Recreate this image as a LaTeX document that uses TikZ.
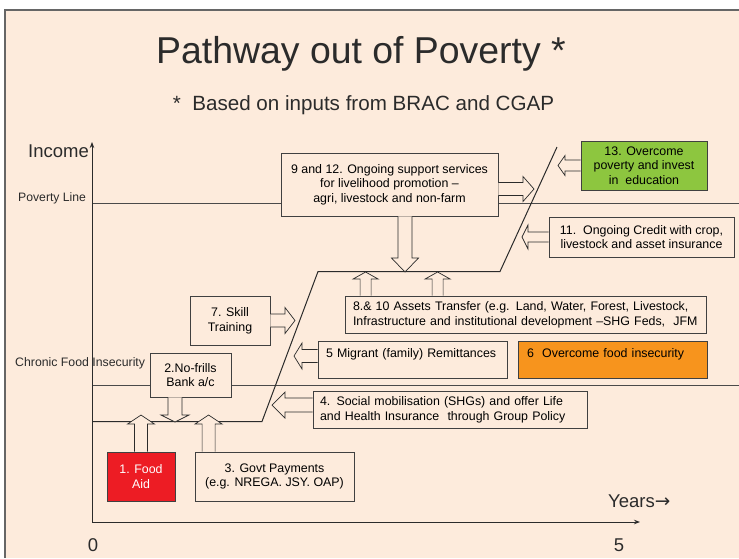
\documentclass[tikz,border=0pt]{standalone}
\usepackage{fontspec}
\setmainfont{Liberation Sans}
\newfontfamily\symfont{DejaVu Sans}
\usetikzlibrary{calc,arrows.meta}
\definecolor{peach}{HTML}{FDEBDC}
\definecolor{ink}{HTML}{2B2B2B}
\definecolor{boxline}{HTML}{404040}
\definecolor{lineg}{HTML}{4A4A4A}
\definecolor{aidred}{HTML}{ED1C24}
\definecolor{okgreen}{HTML}{8DC63F}
\definecolor{foodorange}{HTML}{F7941D}
\newcommand\boxfont{\fontsize{12.4}{14.6}\selectfont}
\newcommand\hblock[5]{%
  \draw[blockarrow] let \p1=(#1), \p2=(#2), \n1={(\x2-\x1)/abs(\x2-\x1)*#5} in
   (\x1,\y1+#3) -- (\x2-\n1,\y1+#3) -- (\x2-\n1,\y1+#4) -- (\x2,\y1) -- (\x2-\n1,\y1-#4) -- (\x2-\n1,\y1-#3) -- (\x1,\y1-#3);}
\newcommand\vblock[5]{%
  \draw[blockarrow] let \p1=(#1), \p2=(#2), \n1={(\y2-\y1)/abs(\y2-\y1)*#5} in
   (\x1+#3,\y1) -- (\x1+#3,\y2-\n1) -- (\x1+#4,\y2-\n1) -- (\x1,\y2) -- (\x1-#4,\y2-\n1) -- (\x1-#3,\y2-\n1) -- (\x1-#3,\y1);}
\tikzset{
  box/.style={draw=boxline, line width=0.8pt, fill=peach, inner sep=0pt, align=center, font=\boxfont},
  leftbox/.style={box, align=left},
  blockarrow/.style={draw=ink, line width=0.7pt, fill=peach, line join=miter},
  levelline/.style={draw=lineg, line width=1pt},
  stepline/.style={draw=ink, line width=1pt},
  axisline/.style={draw=ink, line width=0.9pt, -{Stealth[length=6pt,width=4.5pt]}},
  lab/.style={inner sep=0pt, text=ink},
}
\begin{document}
\begin{tikzpicture}[x=1pt,y=1pt]
\useasboundingbox (0,0) rectangle (739,-558);
% background
\fill[white] (0,0) rectangle (739,-558);
\fill[peach] (4,-10) rectangle (739,-558);
\draw[gray!80!black, line width=1.6pt] (4.8,-558) -- (4.8,-9.8) -- (739,-9.8);

% coordinates
\coordinate (O) at (92,-522);
\coordinate (ytop) at (92,-142);
\coordinate (xend) at (640,-522);
\coordinate (s0) at (92,-421.5);
\coordinate (s1) at (262,-421.5);
\coordinate (s2) at (318,-271.5);
\coordinate (s3) at (500,-271.5);
\coordinate (s4) at (557,-147);
\coordinate (pl0) at (92,-203);
\coordinate (pl1) at (739,-203);
\coordinate (cl0) at (92,-385);
\coordinate (cl1) at (739,-385);

% level lines and pathway
\draw[levelline] (pl0) -- (pl1);
\draw[levelline] (cl0) -- (cl1);
\draw[stepline] (s0) -- (s1) -- (s2) -- (s3) -- (s4);

% axes
\draw[axisline] (O) -- (ytop);
\draw[axisline] (O) -- (xend);

% titles and labels
\node[lab, anchor=base, font=\fontsize{37.4}{40}\selectfont] (title) at (361,-63) {Pathway out of Poverty *};
\node[lab, anchor=base, font=\fontsize{20.6}{24}\selectfont] (subtitle) at (363.5,-110) {*\ \ Based on inputs from BRAC and CGAP};
\node[lab, anchor=base east, font=\fontsize{18.5}{20}\selectfont] (income) at (89,-157) {Income};
\node[lab, anchor=base west, font=\fontsize{12.2}{14}\selectfont] (povlab) at (18,-201) {Poverty Line};
\node[lab, anchor=base west, font=\fontsize{12.3}{14}\selectfont] (chronlab) at (15,-366) {Chronic Food Insecurity};
\node[lab, anchor=base west, font=\fontsize{18.5}{20}\selectfont] (years) at (608,-507) {Years{\symfont →}};
\node[lab, anchor=base, font=\fontsize{18.5}{20}\selectfont] (zero) at (93,-551) {0};
\node[lab, anchor=base, font=\fontsize{18.5}{20}\selectfont] (five) at (619,-551) {5};

% boxes
\node[box, minimum width=217, minimum height=63] (b9) at (389.5,-184.5)
  {9 and 12. Ongoing support services\\for livelihood promotion –\\agri, livestock and non-farm};
\node[box, fill=okgreen, minimum width=126, minimum height=49] (b13) at (644,-165.5)
  {13. Overcome\\poverty and invest\\in\ \ education};
\node[box, minimum width=185, minimum height=40] (b11) at (641.5,-237)
  {11.\ \ Ongoing Credit with crop,\\livestock and asset insurance};
\node[box, minimum width=80, minimum height=49] (b7) at (230,-320.5)
  {7. Skill\\Training};
\node[leftbox, minimum width=361, minimum height=37, text width=345] (b810) at (525.5,-314.5)
  {8.\& 10 Assets Transfer (e.g. Land, Water, Forest, Livestock,\\Infrastructure and institutional development –SHG Feds,\ \ JFM};
\node[leftbox, minimum width=189, text width=173, inner ysep=4pt, text height=12pt, text depth=17pt] (b5) at (412.5,-359.5)
  {5 Migrant (family) Remittances};
\node[leftbox, fill=foodorange, minimum width=189, text width=171, inner ysep=4pt, text height=12pt, text depth=17pt] (b6) at (612.5,-359.5)
  {6\ \ Overcome food insecurity};
\node[box, minimum width=81, minimum height=44] (b2) at (190.5,-375)
  {2.No-frills\\Bank a/c};
\node[leftbox, minimum width=274, minimum height=37, text width=260] (b4) at (450,-409.5)
  {4. Social mobilisation (SHGs) and offer Life\\and Health Insurance\ \ through Group Policy};
\node[box, fill=aidred, text=white, minimum width=68, minimum height=49] (b1) at (141,-476.5)
  {1. Food\\Aid};
\node[box, minimum width=159, minimum height=49] (b3) at (274.5,-476.5)
  {3. Govt Payments\\(e.g. NREGA. JSY. OAP)};

% arrow tips (free ends)
\coordinate (t9) at (534,-189);
\coordinate (t13) at (558,-165.5);
\coordinate (t11) at (522,-237);
\coordinate (t9d) at (405,-272);
\coordinate (t8a) at (366,-272);
\coordinate (t8b) at (438,-272);
\coordinate (t7) at (295,-320.5);
\coordinate (t5) at (294,-356);
\coordinate (t4) at (272,-405);
\coordinate (t2) at (175,-422);
\coordinate (t1) at (141,-415);
\coordinate (t3) at (209,-415);

% block arrows
\hblock{$(b9.east)+(0,-4.5)$}{t9}{6.5}{12.5}{11}
\hblock{b13.west}{t13}{5.5}{10}{7}
\hblock{b11.west}{t11}{5}{12}{6}
\vblock{$(b9.south)+(15.5,0)$}{t9d}{7}{13.5}{14}
\vblock{$(b810.north west)+(21,0)$}{t8a}{5.5}{12.5}{7}
\vblock{$(b810.north west)+(93,0)$}{t8b}{5.5}{12.5}{7}
\hblock{b7.east}{t7}{6.5}{13}{10}
\hblock{$(b5.west)+(0,3.5)$}{t5}{6.5}{13}{8}
\hblock{$(b4.west)+(0,4.5)$}{t4}{7}{13}{13}
\vblock{$(b2.south)+(-15.5,0)$}{t2}{7}{14}{7}
\vblock{b1.north}{t1}{6.5}{13.5}{9}
\vblock{$(b3.north west)+(14,0)$}{t3}{6.5}{13.5}{9}
\end{tikzpicture}
\end{document}
